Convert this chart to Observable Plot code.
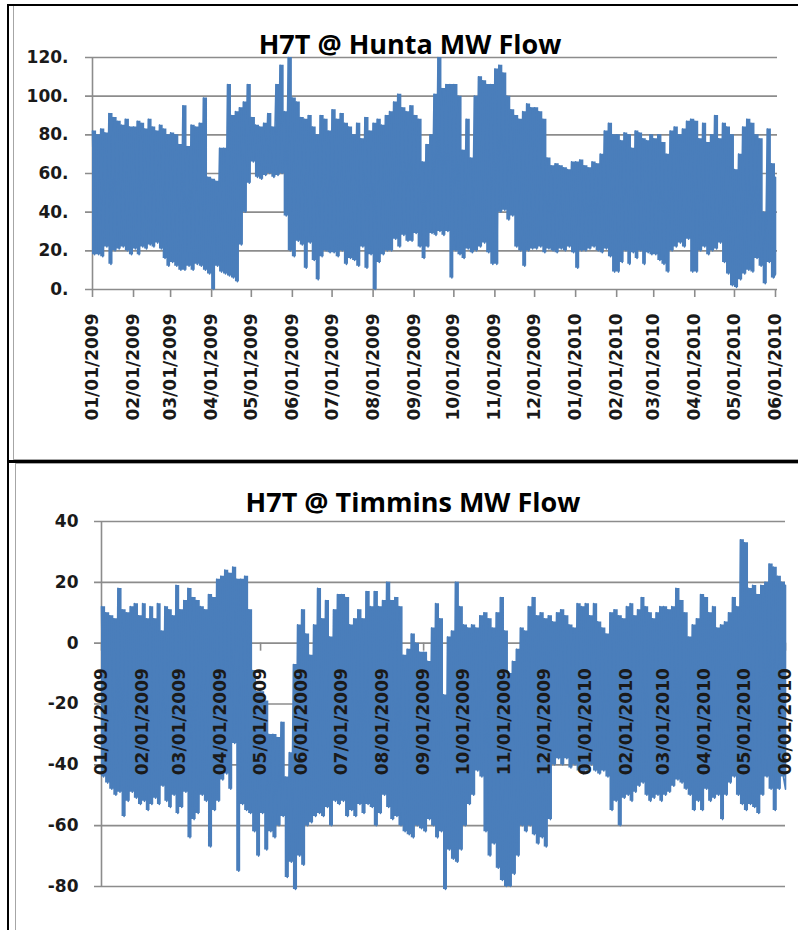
<!DOCTYPE html>
<html>
<head>
<meta charset="utf-8">
<script src="https://cdn.jsdelivr.net/npm/d3@7"></script>
<script src="https://cdn.jsdelivr.net/npm/@observablehq/plot@0.6"></script>
<style>
  body { margin: 0; background: #fff; }
  #page { position: relative; width: 798px; height: 930px; overflow: hidden; background: #fff; }
  .ln { position: absolute; z-index: 5; }
  .title { position: absolute; z-index: 6; font-family: "Open Sans", sans-serif; font-weight: 700;
           font-size: 27px; line-height: 27px; white-space: nowrap; text-align: center; color: #000; }
</style>
</head>
<body>
<div id="page">
  <div class="ln" style="left:7px;top:4px;width:791px;height:2px;background:#000"></div>
  <div class="ln" style="left:7px;top:4px;width:2px;height:926px;background:#000"></div>
  <div class="ln" style="left:13px;top:6px;width:1px;height:453px;background:#a6a6a6"></div>
  <div class="ln" style="left:13px;top:459px;width:785px;height:1px;background:#a6a6a6"></div>
  <div class="ln" style="left:7px;top:460px;width:791px;height:3px;background:#000"></div>
  <div class="ln" style="left:15px;top:463px;width:783px;height:1px;background:#a6a6a6"></div>
  <div class="ln" style="left:15px;top:463px;width:1px;height:467px;background:#a6a6a6"></div>
  <div class="title" id="t1" style="left:0;width:820px;top:30px"></div>
  <div class="title" id="t2" style="left:0;width:826px;top:488px"></div>
</div>
<script>
// ---------- data ----------
const titleTop = "H7T @ Hunta MW Flow";
const titleBottom = "H7T @ Timmins MW Flow";

const tickLabels = ["01/01/2009","02/01/2009","03/01/2009","04/01/2009","05/01/2009","06/01/2009",
  "07/01/2009","08/01/2009","09/01/2009","10/01/2009","11/01/2009","12/01/2009",
  "01/01/2010","02/01/2010","03/01/2010","04/01/2010","05/01/2010","06/01/2010"];

const yTicksTop = [0, 20, 40, 60, 80, 100, 120];
const yTicksBottom = [-80, -60, -40, -20, 0, 20, 40];

// readings per month (10 per month): daily-cycle highs and lows;
// the last value of each list is the reading at 06/01/2010
const huntaHigh = [
  82,80,83,81,91,89,87,85,88,84,      // Jan 2009
  84,87,86,83,88,84,82,85,83,80,      // Feb
  81,80,75,95,74,85,84,86,99,58,      // Mar
  57,56,73,73,106,90,92,94,97,106,    // Apr
  89,85,84,86,91,84,106,116,92,120,   // May
  99,97,89,88,90,84,80,90,88,82,      // Jun
  93,88,91,86,84,80,86,78,89,82,      // Jul
  86,88,85,90,92,97,101,94,92,95,     // Aug
  90,88,66,75,80,101,120,104,106,106, // Sep
  106,100,72,88,68,100,110,108,106,106, // Oct
  114,116,112,100,93,90,88,92,96,94,  // Nov
  94,92,88,68,64,65,64,63,62,66,      // Dec
  66,67,64,63,66,65,70,82,86,80,      // Jan 2010
  80,77,81,80,73,82,81,78,77,80,      // Feb
  78,80,76,70,82,84,80,83,87,88,      // Mar
  87,78,86,76,80,90,78,86,84,80,      // Apr
  62,70,84,88,86,80,78,40,83,65,      // May
  58                                  // Jun 1 2010
];
const huntaLow = [
  18,18,17,22,13,20,21,22,20,18,
  21,18,22,21,23,22,24,21,16,12,
  14,12,10,10,12,10,13,12,10,8,
  0,12,9,8,7,6,4,23,40,55,
  66,58,57,59,60,58,59,60,38,20,
  17,25,23,11,24,15,5,17,20,19,
  19,17,20,13,16,15,12,22,11,18,
  0,14,18,20,20,26,22,28,25,25,
  29,22,16,22,29,28,30,28,30,6,
  20,18,16,21,19,20,22,24,19,13,
  13,40,41,36,38,22,20,12,20,21,
  21,22,19,21,20,19,21,20,22,19,
  11,20,20,21,22,20,19,21,17,9,
  9,14,20,13,19,16,20,13,19,18,
  18,15,13,9,20,22,24,22,26,9,
  9,20,22,18,20,21,24,14,8,2,
  1,5,8,10,9,16,12,3,14,6,
  8
];
const timminsHigh = [
  12,10,9,8,18,11,10,12,13,9,          // Jan 2009
  13,8,12,8,13,4,12,11,9,19,           // Feb
  11,14,18,15,14,12,11,16,15,21,       // Mar
  22,24,23,25,21,21,22,11,-9,-16,      // Apr
  -16,-19,-30,-30,-31,-26,-44,-36,-7,6,// May
  11,3,-4,6,18,8,14,2,11,16,           // Jun
  16,15,6,8,11,8,17,12,17,12,          // Jul
  14,20,14,15,12,-4,-2,3,0,-3,         // Aug
  -3,-6,5,13,8,-17,2,4,20,12,          // Sep
  6,5,6,5,9,10,8,5,10,15,              // Oct
  4,-10,-6,-2,5,4,12,15,9,10,          // Nov
  8,9,7,10,11,9,6,5,13,12,             // Dec
  13,9,13,7,5,3,10,11,9,8,             // Jan 2010
  12,13,9,11,15,12,10,8,10,12,         // Feb
  12,11,12,18,14,10,2,6,8,16,          // Mar
  15,10,12,5,6,7,10,15,12,34,          // Apr
  33,18,19,16,19,20,26,25,22,20,       // May
  19                                   // Jun 1 2010
];
const timminsLow = [
  -44,-46,-48,-50,-49,-57,-52,-49,-51,-53,
  -52,-55,-53,-51,-53,-47,-52,-54,-50,-56,
  -54,-49,-64,-58,-56,-50,-52,-67,-55,-52,
  -45,-43,-48,-33,-75,-53,-55,-56,-62,-70,
  -56,-68,-62,-64,-60,-57,-77,-72,-81,-70,
  -73,-60,-59,-57,-56,-57,-54,-60,-52,-53,
  -52,-57,-55,-57,-53,-56,-53,-54,-60,-56,
  -50,-54,-58,-57,-60,-62,-63,-64,-60,-61,
  -62,-58,-60,-64,-62,-81,-68,-71,-72,-68,
  -60,-53,-50,-42,-44,-62,-70,-66,-74,-78,
  -80,-80,-76,-70,-60,-62,-60,-63,-66,-64,
  -67,-58,-40,-38,-40,-38,-41,-40,-42,-43,
  -42,-40,-42,-43,-42,-44,-55,-52,-60,-51,
  -50,-52,-49,-47,-46,-50,-52,-51,-50,-52,
  -50,-49,-47,-45,-46,-48,-50,-55,-52,-55,
  -48,-52,-51,-50,-58,-50,-46,-44,-50,-53,
  -55,-53,-54,-56,-50,-44,-48,-55,-48,-44,
  -48
];

// ---------- build ----------
const parse = d3.utcParse("%m/%d/%Y");
const fmt = d3.utcFormat("%m/%d/%Y");
const tickDates = tickLabels.map(parse);
const PER_MONTH = 10;

// zigzag points (high then low) and per-sample records for the filled band
function build(high, low) {
  const pts = [], recs = [];
  const nMonths = tickDates.length - 1;
  for (let m = 0; m < nMonths; m++) {
    const s = +tickDates[m], e = +tickDates[m + 1], step = (e - s) / PER_MONTH;
    for (let k = 0; k < PER_MONTH; k++) {
      const i = m * PER_MONTH + k;
      pts.push({date: new Date(s + k * step), value: high[i]});
      pts.push({date: new Date(s + (k + 0.5) * step), value: low[i]});
      recs.push({date: new Date(s + k * step), high: high[i], low: low[i]});
    }
  }
  const last = nMonths * PER_MONTH, end = tickDates[nMonths];
  pts.push({date: end, value: low[last]}, {date: end, value: high[last]});
  recs.push({date: end, high: high[last], low: low[last]});
  return {pts, recs};
}
const hunta = build(huntaHigh, huntaLow);
const timmins = build(timminsHigh, timminsLow);

const blue = "#4A7EBB";
const grid = "#8c8c8c";
const ink = "#1a1a1a";
const baseStyle = {fontFamily: "DejaVu Sans", fontSize: "17px", fontWeight: "bold",
  background: "transparent", overflow: "visible"};

function dataMarks(d) {
  return [
    Plot.areaY(d.recs, {x: "date", y1: "low", y2: "high", curve: "step-after", fill: blue}),
    Plot.lineY(d.pts, {x: "date", y: "value", stroke: blue, strokeWidth: 1.6})
  ];
}

document.getElementById("t1").textContent = titleTop;
document.getElementById("t2").textContent = titleBottom;

// ---- top chart ----
const topChart = Plot.plot({
  width: 798, height: 459,
  marginLeft: 92, marginRight: 23, marginTop: 57, marginBottom: 170,
  style: baseStyle,
  x: {type: "utc", domain: [tickDates[0], tickDates[tickDates.length - 1]]},
  y: {domain: [0, 120]},
  marks: [
    Plot.ruleY(yTicksTop, {stroke: grid, strokeWidth: 1.6, insetLeft: -7, insetRight: -2}),
    Plot.ruleX([tickDates[0]], {stroke: grid, strokeWidth: 1.6}),
    ...dataMarks(hunta),
    Plot.axisY(yTicksTop, {tickSize: 0, tickPadding: 24, tickFormat: d => d + ".", fill: ink, label: null}),
    Plot.axisX(tickDates, {tickSize: 8, tickPadding: 16, tickRotate: -90, tickFormat: fmt,
      stroke: grid, strokeWidth: 1.6, fill: ink, label: null})
  ]
});
topChart.style.position = "absolute"; topChart.style.left = "0px"; topChart.style.top = "0px";
document.getElementById("page").appendChild(topChart);

// ---- bottom chart ----
const bH = 466, bTop = 57, bBottom = 44;
const yb = d3.scaleLinear([-80, 40], [bH - bBottom, bTop]);
const axisShift = yb(0) - yb(-80);
const botChart = Plot.plot({
  width: 798, height: bH,
  marginLeft: 101, marginRight: 13, marginTop: bTop, marginBottom: bBottom,
  style: baseStyle,
  x: {type: "utc", domain: [tickDates[0], tickDates[tickDates.length - 1]]},
  y: {domain: [-80, 40]},
  marks: [
    Plot.ruleY(yTicksBottom, {stroke: grid, strokeWidth: 1.6, insetLeft: -7}),
    Plot.ruleX([tickDates[0]], {stroke: grid, strokeWidth: 1.6}),
    Plot.axisX(tickDates, {tickSize: 8, tickFormat: () => "", stroke: grid, strokeWidth: 1.6,
      dy: axisShift, label: null}),
    ...dataMarks(timmins),
    Plot.axisY(yTicksBottom, {tickSize: 0, tickPadding: 23, tickFormat: d => String(d), fill: ink, label: null}),
    Plot.axisX(tickDates, {tickSize: 0, tickPadding: 25, tickRotate: -90, tickFormat: fmt,
      fill: ink, dy: axisShift, label: null})
  ]
});
botChart.style.position = "absolute"; botChart.style.left = "0px"; botChart.style.top = "464px";
document.getElementById("page").appendChild(botChart);
</script>
</body>
</html>
